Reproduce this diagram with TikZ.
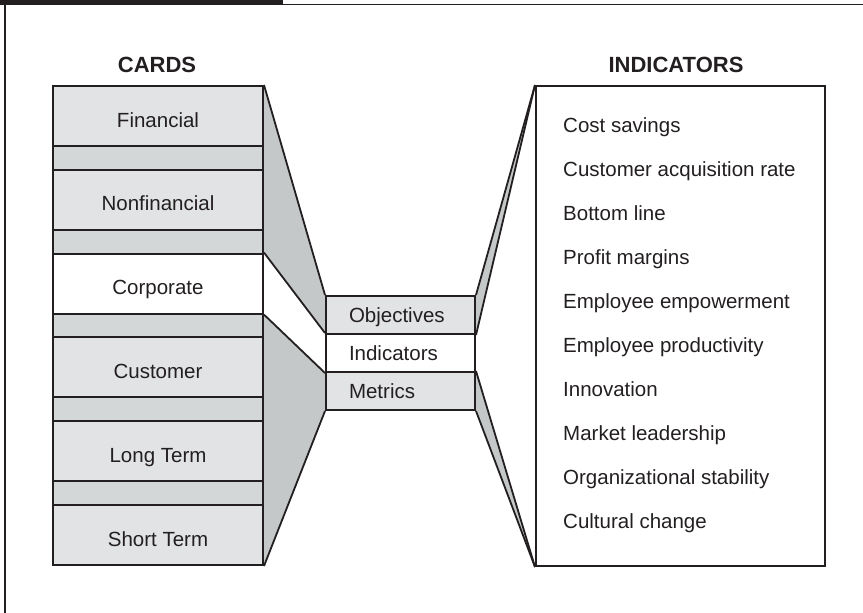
\documentclass[tikz,border=0pt]{standalone}
\usepackage{fontspec}
\setmainfont{Liberation Sans}
\usetikzlibrary{backgrounds}
\definecolor{ink}{HTML}{231F20}
\definecolor{cardgray}{HTML}{E1E3E5}
\definecolor{gapgray}{HTML}{D4D7D7}
\definecolor{trapgray}{HTML}{C5C8C9}
\tikzset{
  card/.style={draw=ink, line width=2pt, fill=cardgray, minimum width=210pt, minimum height=60pt, inner sep=0pt, text=ink, text height=22pt, text depth=0pt, font=\fontsize{20.5}{24}\selectfont},
  gap/.style={draw=ink, line width=2pt, fill=gapgray, minimum width=210pt, minimum height=23.8pt, inner sep=0pt},
  mid/.style={draw=ink, line width=2pt, fill=cardgray, minimum height=38pt, text width=103pt, inner xsep=23pt, inner ysep=0pt, align=left, text=ink, text height=14pt, text depth=0pt, font=\fontsize{20.5}{24}\selectfont},
  item/.style={anchor=base west, inner sep=0pt, text=ink, font=\fontsize{20.5}{24}\selectfont},
  head/.style={inner sep=0pt, text=ink, font=\bfseries\fontsize{22}{26}\selectfont},
  edge/.style={draw=ink, line width=1.8pt, line join=round}
}
\begin{document}
\begin{tikzpicture}[x=1pt, y=-1pt]
\useasboundingbox (0,0) rectangle (863,613);
% frame
\fill[ink] (0,0) rectangle (283,5);
\draw[ink, line width=1.3pt] (283,4.5) -- (863,4.5);
\draw[ink, line width=1.3pt] (5,0) -- (5,613);
% headings
\node(cards) at (157,65) [head]{CARDS};
\node(indic) at (676,65) [head]{INDICATORS};
% cards
\node(fin) at (158,116) [card]{Financial};
\node(g1) at (158,157.9) [gap]{};
\node(nonfin) at (158,199.8) [card]{Nonfinancial};
\node(g2) at (158,241.7) [gap]{};
\node(corp) at (158,283.6) [card, fill=white]{Corporate};
\node(g3) at (158,325.5) [gap]{};
\node(cust) at (158,367.4) [card]{Customer};
\node(g4) at (158,409.3) [gap]{};
\node(long) at (158,451.2) [card]{Long Term};
\node(g5) at (158,493.1) [gap]{};
\node(short) at (158,535) [card]{Short Term};
% middle
\node(obj) at (400.5,315) [mid]{Objectives};
\node(ind) at (400.5,353) [mid, fill=white]{Indicators};
\node(met) at (400.5,391) [mid]{Metrics};
% indicator list
\node(list) at (680.5,326) [draw=ink, line width=2pt, minimum width=289pt, minimum height=480pt]{};
\node(i1) at (563,132) [item]{Cost savings};
\node(i2) at (563,176) [item]{Customer acquisition rate};
\node(i3) at (563,220) [item]{Bottom line};
\node(i4) at (563,264) [item]{Profit margins};
\node(i5) at (563,308) [item]{Employee empowerment};
\node(i6) at (563,352) [item]{Employee productivity};
\node(i7) at (563,396) [item]{Innovation};
\node(i8) at (563,440) [item]{Market leadership};
\node(i9) at (563,484) [item]{Organizational stability};
\node(i10) at (563,528) [item]{Cultural change};
% funnels
\begin{pgfonlayer}{background}
\fill[trapgray] (fin.north east) -- (obj.north west) -- (met.south west) -- (short.south east) -- cycle;
\fill[white] (corp.north east) -- (ind.north west) -- (ind.south west) -- (corp.south east) -- cycle;
\fill[trapgray] (list.north west) -- (obj.north east) -- (obj.south east) -- cycle;
\fill[trapgray] (list.south west) -- (met.south east) -- (met.north east) -- cycle;
\end{pgfonlayer}
\draw[edge] (fin.north east) to (obj.north west);
\draw[edge] (corp.north east) to (ind.north west);
\draw[edge] (corp.south east) to (ind.south west);
\draw[edge] (short.south east) to (met.south west);
\draw[edge] (list.north west) to (obj.north east);
\draw[edge] (list.north west) to (obj.south east);
\draw[edge] (list.south west) to (met.north east);
\draw[edge] (list.south west) to (met.south east);
\end{tikzpicture}
\end{document}
